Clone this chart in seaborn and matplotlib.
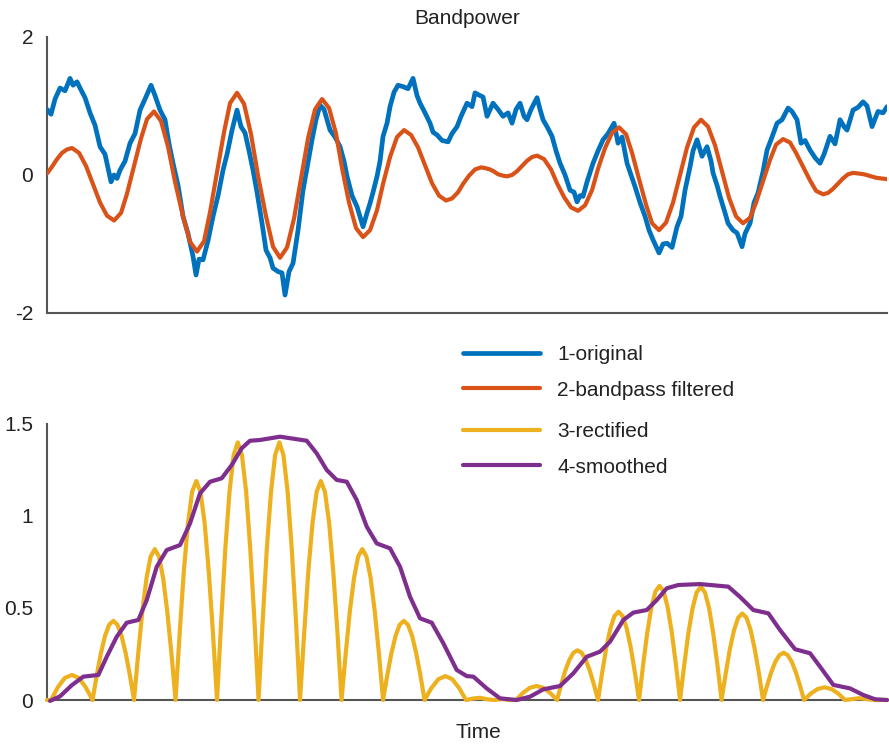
import matplotlib
matplotlib.use("Agg")
import matplotlib.pyplot as plt
import seaborn as sns

# time axis runs 0..840 (arbitrary units, no ticks shown)

# 1-original (noisy signal)
orig_t = [0, 4, 8, 13, 18, 23, 26, 30, 33, 38, 43, 48, 53, 58, 64, 67, 70, 73, 78, 83,
          88, 93, 98, 104, 108, 113, 118, 122, 126, 131, 136, 141, 146, 149, 152, 156, 161, 166, 171, 176,
          180, 185, 190, 194, 198, 202, 206, 210, 215, 219, 223, 226, 231, 235, 238, 242, 246, 251, 256, 260,
          265, 269, 273, 277, 283, 288, 293, 297, 300, 305, 310, 316, 320, 323, 326, 330, 333, 336, 340, 343,
          347, 351, 356, 361, 366, 370, 373, 378, 383, 386, 390, 395, 401, 405, 410, 414, 420, 425, 428, 433,
          436, 440, 446, 451, 456, 461, 465, 469, 473, 477, 480, 484, 490, 493, 496, 500, 505, 509, 513, 518,
          523, 527, 530, 533, 536, 540, 546, 551, 556, 561, 567, 571, 575, 580, 584, 588, 593, 598, 602, 606,
          612, 616, 620, 625, 630, 634, 638, 643, 646, 650, 655, 660, 664, 666, 670, 673, 678, 681, 686, 690,
          695, 698, 703, 707, 711, 716, 720, 725, 730, 735, 741, 745, 750, 754, 758, 763, 768, 773, 777, 783,
          788, 793, 797, 800, 806, 811, 816, 820, 825, 829, 831, 836, 840]
orig_v = [0.95, 0.88, 1.10, 1.26, 1.22, 1.40, 1.30, 1.35, 1.26, 1.12, 0.90, 0.72, 0.41, 0.30, -0.10, 0.00, -0.05, 0.07, 0.20, 0.46,
          0.60, 0.94, 1.10, 1.30, 1.15, 0.94, 0.80, 0.45, 0.17, -0.15, -0.60, -0.85, -1.18, -1.45, -1.22, -1.23, -0.95, -0.60, -0.30, 0.07,
          0.30, 0.65, 0.94, 0.70, 0.61, 0.35, 0.07, -0.25, -0.70, -1.09, -1.20, -1.35, -1.40, -1.42, -1.74, -1.40, -1.28, -0.80, -0.22, 0.10,
          0.51, 0.80, 1.01, 0.95, 0.65, 0.55, 0.41, 0.20, -0.02, -0.30, -0.46, -0.75, -0.55, -0.41, -0.25, -0.02, 0.20, 0.56, 0.75, 0.99,
          1.20, 1.30, 1.28, 1.25, 1.40, 1.15, 1.04, 0.90, 0.75, 0.62, 0.58, 0.50, 0.48, 0.60, 0.70, 0.85, 1.04, 0.99, 1.19, 1.15,
          1.13, 0.85, 1.04, 0.95, 0.85, 0.90, 0.75, 0.95, 1.04, 0.85, 0.80, 0.95, 1.12, 0.95, 0.80, 0.70, 0.56, 0.35, 0.17, 0.00,
          -0.22, -0.25, -0.39, -0.30, -0.31, -0.10, 0.17, 0.35, 0.51, 0.60, 0.75, 0.46, 0.55, 0.17, 0.00, -0.17, -0.40, -0.60, -0.80, -0.94,
          -1.13, -1.00, -0.99, -1.05, -0.75, -0.60, -0.22, 0.12, 0.35, 0.51, 0.27, 0.41, 0.20, 0.03, -0.15, -0.31, -0.55, -0.70, -0.80, -0.84,
          -1.04, -0.85, -0.70, -0.40, -0.26, 0.05, 0.36, 0.55, 0.75, 0.80, 0.97, 0.92, 0.80, 0.46, 0.50, 0.36, 0.25, 0.17, 0.30, 0.56,
          0.45, 0.80, 0.70, 0.65, 0.94, 0.98, 1.06, 1.00, 0.70, 0.85, 0.92, 0.90, 0.99]

# 2-bandpass filtered
bp_t = [0, 5, 10, 15, 20, 25,
        32, 39, 46, 53, 60, 67,
        74, 80, 87, 94, 100, 107,
        114, 121, 128, 136, 143, 150,
        157, 163, 170, 177, 183, 190,
        197, 204, 211, 219, 226, 233,
        240, 247, 254, 261, 268, 275,
        282, 289, 295, 302, 309, 316,
        323, 330, 336, 343, 350, 357,
        364, 371, 378, 385, 392, 399,
        405, 411, 416, 422, 428, 434,
        438, 443, 447, 451, 456, 460,
        465, 470, 475, 480, 485, 490,
        497, 504, 510, 517, 524, 531,
        538, 545, 551, 558, 565, 572,
        579, 585, 592, 599, 605, 612,
        619, 626, 633, 640, 647, 654,
        661, 668, 675, 682, 689, 696,
        703, 709, 716, 723, 729, 736,
        743, 749, 756, 763, 769, 776,
        781, 786, 791, 796, 801, 806,
        812, 817, 823, 829, 834, 840]
bp_v = [0.02, 0.12, 0.23, 0.32, 0.37, 0.39,
        0.32, 0.13, -0.135, -0.40, -0.59, -0.66,
        -0.55, -0.27, 0.13, 0.53, 0.81, 0.92,
        0.78, 0.41, -0.10, -0.60, -0.97, -1.11,
        -0.96, -0.54, 0.04, 0.62, 1.04, 1.19,
        1.03, 0.59, -0.01, -0.60, -1.04, -1.20,
        -1.05, -0.63, -0.05, 0.53, 0.95, 1.10,
        0.97, 0.60, 0.10, -0.40, -0.77, -0.90,
        -0.80, -0.51, -0.13, 0.26, 0.55, 0.65,
        0.58, 0.40, 0.14, -0.12, -0.30, -0.37,
        -0.34, -0.25, -0.13, -0.01, 0.08, 0.11,
        0.10, 0.08, 0.05, 0.01, -0.01, -0.02,
        0.00, 0.055, 0.13, 0.205, 0.26, 0.28,
        0.23, 0.08, -0.12, -0.32, -0.47, -0.52,
        -0.44, -0.22, 0.09, 0.39, 0.61, 0.69,
        0.59, 0.32, -0.06, -0.43, -0.70, -0.80,
        -0.69, -0.40, 0.00, 0.40, 0.69, 0.80,
        0.70, 0.43, 0.05, -0.33, -0.60, -0.70,
        -0.62, -0.40, -0.09, 0.22, 0.44, 0.52,
        0.47, 0.32, 0.12, -0.08, -0.23, -0.28,
        -0.26, -0.20, -0.125, -0.05, 0.01, 0.03,
        0.02, 0.01, -0.015, -0.04, -0.05, -0.06]

# 3-rectified, one row per lobe
rect_t = [0, 4, 10.9, 17.8, 24.8, 31.7, 38.6,
          45.5, 49.7, 53.8, 58.0, 62.1, 66.3, 70.4, 74.6, 78.7, 82.9,
          87, 91.2, 95.3, 99.5, 103.6, 107.8, 111.9, 116.1, 120.2, 124.4,
          128.5, 132.7, 136.8, 141.0, 145.1, 149.3, 153.4, 157.6, 161.7, 165.9,
          170, 174.2, 178.3, 182.5, 186.6, 190.8, 194.9, 199.1, 203.2, 207.4,
          211.5, 215.7, 219.8, 224.0, 228.1, 232.3, 236.4, 240.6, 244.7, 248.9,
          253, 257.2, 261.3, 265.5, 269.6, 273.8, 277.9, 282.1, 286.2, 290.4,
          294.5, 298.7, 302.8, 307.0, 311.1, 315.3, 319.4, 323.6, 327.7, 331.9,
          336, 340.2, 344.3, 348.5, 352.6, 356.8, 360.9, 365.1, 369.2, 373.4,
          377.5, 384.4, 391.3, 398.3, 405.2, 412.1,
          419, 426, 433, 440, 447, 455, 462,
          469, 475.8, 482.7, 489.5, 496.3, 503.2,
          510, 514.1, 518.2, 522.3, 526.4, 530.5, 534.6, 538.7, 542.8, 546.9,
          551, 555.1, 559.2, 563.3, 567.4, 571.5, 575.6, 579.7, 583.8, 587.9,
          592, 596.1, 600.2, 604.3, 608.4, 612.5, 616.6, 620.7, 624.8, 628.9,
          633, 637.2, 641.3, 645.5, 649.6, 653.8, 657.9, 662.1, 666.2, 670.4,
          674.5, 678.7, 682.8, 687.0, 691.1, 695.3, 699.4, 703.6, 707.7, 711.9,
          716, 720.1, 724.2, 728.3, 732.4, 736.5, 740.6, 744.7, 748.8, 752.9,
          757, 763.8, 770.7, 777.5, 784.3, 791.2,
          798, 805, 812, 820, 828, 840]
rect_v = [0, 0, 0.07, 0.12, 0.136, 0.12, 0.07,
          0, 0.133, 0.253, 0.348, 0.409, 0.43, 0.409, 0.348, 0.253, 0.133,
          0, 0.253, 0.482, 0.663, 0.78, 0.82, 0.78, 0.663, 0.482, 0.253,
          0, 0.368, 0.70, 0.963, 1.132, 1.19, 1.132, 0.963, 0.70, 0.368,
          0, 0.433, 0.823, 1.133, 1.331, 1.40, 1.331, 1.133, 0.823, 0.433,
          0, 0.433, 0.823, 1.133, 1.331, 1.40, 1.331, 1.133, 0.823, 0.433,
          0, 0.368, 0.70, 0.963, 1.132, 1.19, 1.132, 0.963, 0.70, 0.368,
          0, 0.253, 0.482, 0.663, 0.78, 0.82, 0.78, 0.663, 0.482, 0.253,
          0, 0.133, 0.253, 0.348, 0.409, 0.43, 0.409, 0.348, 0.253, 0.133,
          0, 0.065, 0.113, 0.13, 0.113, 0.065,
          0, 0.008, 0.012, 0.004, 0, 0.005, 0,
          0, 0.038, 0.066, 0.076, 0.066, 0.038,
          0, 0.083, 0.159, 0.218, 0.257, 0.27, 0.257, 0.218, 0.159, 0.083,
          0, 0.148, 0.282, 0.388, 0.456, 0.48, 0.456, 0.388, 0.282, 0.148,
          0, 0.192, 0.365, 0.502, 0.59, 0.62, 0.59, 0.502, 0.365, 0.192,
          0, 0.19, 0.362, 0.498, 0.585, 0.615, 0.585, 0.498, 0.362, 0.19,
          0, 0.145, 0.276, 0.38, 0.447, 0.47, 0.447, 0.38, 0.276, 0.145,
          0, 0.079, 0.151, 0.208, 0.244, 0.257, 0.244, 0.208, 0.151, 0.079,
          0, 0.035, 0.06, 0.069, 0.06, 0.035,
          0, 0.005, 0.01, 0.005, 0, 0]

# 4-smoothed
smooth_t = [3, 13, 24.7, 36.3, 51.3, 59.7, 69.7, 79.7, 91.3, 99.7, 109.7, 119.7, 133, 143, 153, 163,
            174.7, 184.7, 194.7, 203, 213, 233, 259.7, 269.7, 279.7, 289.7, 299.7, 309.7, 319.7, 329.7,
            343, 353, 363, 373, 384.7, 396.3, 409.7, 419.7, 426.3, 439.7, 453, 469.7, 483, 496.3, 513,
            526.3, 539.7, 553, 563, 576.3, 586.3, 599.7, 609.7, 619.7, 631.3, 653, 681.3, 693, 706.3,
            721.3, 733, 748, 763, 773, 786.3, 803, 816.3, 828, 840]
smooth_v = [-0.005, 0.02, 0.08, 0.127, 0.136, 0.235, 0.344, 0.42, 0.435, 0.543, 0.724, 0.815, 0.842, 0.96, 1.123, 1.186,
            1.205, 1.277, 1.368, 1.409, 1.413, 1.431, 1.409, 1.34, 1.25, 1.196, 1.186, 1.087, 0.942, 0.851,
            0.824, 0.724, 0.561, 0.444, 0.42, 0.308, 0.163, 0.13, 0.127, 0.063, 0.009, 0.0, 0.018, 0.058, 0.076,
            0.145, 0.235, 0.263, 0.317, 0.435, 0.475, 0.489, 0.543, 0.607, 0.625, 0.63, 0.616, 0.56, 0.489,
            0.471, 0.38, 0.276, 0.254, 0.181, 0.082, 0.063, 0.027, 0.004, 0.0]

labels = ["1-original", "2-bandpass filtered", "3-rectified", "4-smoothed"]
colors = ["#0072BD", "#D95319", "#EDB120", "#7E2F8E"]

sns.set_theme(style="white")
plt.rcParams['font.family'] = ['Liberation Sans', 'DejaVu Sans']
plt.rcParams['axes.unicode_minus'] = False

fig = plt.figure(figsize=(8.89, 7.45), dpi=100)
ax1 = fig.add_axes([0.0529, 0.5799, 0.9449, 0.3705])
ax2 = fig.add_axes([0.0529, 0.0604, 0.9449, 0.3705])

sns.lineplot(x=orig_t, y=orig_v, ax=ax1, color=colors[0], linewidth=3.4, estimator=None, sort=False, zorder=3)
sns.lineplot(x=bp_t, y=bp_v, ax=ax1, color=colors[1], linewidth=3, estimator=None, sort=False, zorder=4)
sns.lineplot(x=rect_t, y=rect_v, ax=ax2, color=colors[2], linewidth=3, estimator=None, sort=False,
             zorder=3, clip_on=False)
sns.lineplot(x=smooth_t, y=smooth_v, ax=ax2, color=colors[3], linewidth=3, estimator=None, sort=False,
             zorder=4, clip_on=False)

ax1.set_xlim(0, 840)
ax1.set_ylim(-2, 2)
ax1.set_yticks([-2, 0, 2])
ax1.set_yticklabels(["-2", "0", "2"])
ax2.set_xlim(0, 840)
ax2.set_ylim(0, 1.5)
ax2.set_yticks([0, 0.5, 1, 1.5])
ax2.set_yticklabels(["0", "0.5", "1", "1.5"])

for ax in (ax1, ax2):
    ax.set_xticks([])
    sns.despine(ax=ax)
    for side in ("left", "bottom"):
        ax.spines[side].set_color("#555555")
        ax.spines[side].set_linewidth(1.5)
    ax.tick_params(axis="y", direction="in", length=6, width=1.2, color="#555555",
                   labelsize=15, labelcolor="#222222", pad=10)
    ax.set_xlabel("")
    ax.set_ylabel("")

ax1.set_title("Bandpower", fontsize=15, color="#222222", pad=9)
ax2.set_xlabel("Time", fontsize=15, color="#222222")
ax2.xaxis.set_label_coords(0.513, -0.085)

h1 = ax1.get_lines()
h2 = ax2.get_lines()
leg_kw = dict(loc="upper left", frameon=False, borderpad=0, borderaxespad=0, fontsize=15,
              handlelength=3.7, handletextpad=0.82, labelspacing=0.8, labelcolor="#222222")
fig.legend([h1[0], h1[1]], labels[:2], bbox_to_anchor=(0.5208, 0.5369), **leg_kw)
fig.legend([h2[0], h2[1]], labels[2:], bbox_to_anchor=(0.5208, 0.4336), **leg_kw)

fig.savefig("out.png", dpi=100)
